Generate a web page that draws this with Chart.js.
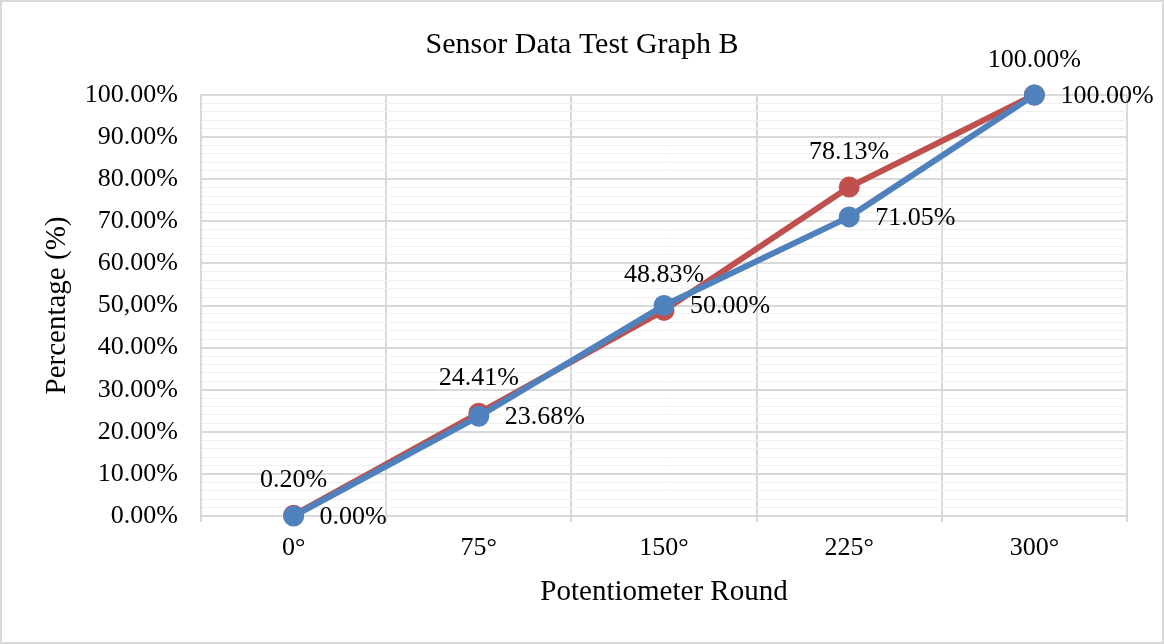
<!DOCTYPE html>
<html>
<head>
<meta charset="utf-8">
<script src="https://cdn.jsdelivr.net/npm/chart.js@4"></script>
<style>
  html, body { margin: 0; padding: 0; background: #fff; }
  #wrap { width: 1164px; height: 644px; box-sizing: border-box; border: 2px solid #d9d9d9; }
</style>
</head>
<body>
<div id="wrap"><canvas id="grafico" width="1160" height="640"></canvas></div>
<script>
// dados
const rounds = ['0°', '75°', '150°', '225°', '300°']
const redValues = [0.20, 24.41, 48.83, 78.13, 100.00]
const blueValues = [0.00, 23.68, 50.00, 71.05, 100.00]
const yTickLabels = ['0.00%', '10.00%', '20.00%', '30.00%', '40.00%', '50,00%',
  '60.00%', '70.00%', '80.00%', '90.00%', '100.00%']

const serif = 'Liberation Serif'

// rotulos dos pontos
const pointLabels = {
  id: 'pointLabels',
  afterDatasetsDraw(chart) {
    const ctx = chart.ctx
    ctx.save()
    ctx.font = '26px "' + serif + '"'
    ctx.fillStyle = '#000'
    ctx.textBaseline = 'middle'
    chart.data.datasets.forEach((ds, i) => {
      const meta = chart.getDatasetMeta(i)
      meta.data.forEach((pt, j) => {
        const txt = ds.data[j].toFixed(2) + '%'
        if (ds.labelSide === 'top') {
          ctx.textAlign = 'center'
          ctx.fillText(txt, pt.x, pt.y - 35)
        } else {
          ctx.textAlign = 'left'
          ctx.fillText(txt, pt.x + 26, pt.y + 1)
        }
      })
    })
    ctx.restore()
  }
}

const ctx = document.getElementById('grafico')

const data = {
  labels: rounds,
  datasets: [{
    label: 'A',
    data: redValues,
    borderColor: '#C0504D',
    backgroundColor: '#C0504D',
    borderWidth: 6,
    pointRadius: 7.5,
    pointHoverRadius: 7.5,
    order: 2,
    clip: false,
    labelSide: 'top'
  }, {
    label: 'B',
    data: blueValues,
    borderColor: '#4F81BD',
    backgroundColor: '#4F81BD',
    borderWidth: 6,
    pointRadius: 7.5,
    pointHoverRadius: 7.5,
    order: 1,
    clip: false,
    labelSide: 'right'
  }]
}

const config = {
  type: 'line',
  data,
  plugins: [pointLabels],
  options: {
    responsive: false,
    animation: false,
    layout: { padding: { top: 0, left: 0, right: 0, bottom: 32 } },
    plugins: {
      legend: { display: false },
      tooltip: { enabled: false },
      title: {
        display: true,
        text: 'Sensor Data Test Graph B',
        color: '#000',
        font: { family: serif, size: 30, weight: 'normal' },
        padding: { top: 25, bottom: 32 }
      }
    },
    scales: {
      x: {
        offset: true,
        grid: { offset: true, color: '#d9d9d9', lineWidth: 2, tickLength: 6 },
        border: { color: '#d9d9d9', width: 2 },
        ticks: { color: '#000', padding: 11, font: { family: serif, size: 26 } },
        title: {
          display: true,
          text: 'Potentiometer Round',
          color: '#000',
          font: { family: serif, size: 29 },
          padding: { top: 0, bottom: 0 }
        }
      },
      y: {
        min: 0,
        max: 100,
        afterFit(scale) { scale.width = 199 },
        grid: {
          drawTicks: false,
          lineWidth: c => (c.tick && c.tick.value % 10 === 0) ? 2 : 1,
          color: c => (c.tick && c.tick.value % 10 === 0) ? '#d9d9d9' : '#f0f0f0'
        },
        border: { color: '#d9d9d9', width: 2 },
        ticks: {
          stepSize: 2,
          autoSkip: false,
          padding: 23,
          color: '#000',
          font: { family: serif, size: 26 },
          callback: v => (v % 10 === 0) ? yTickLabels[v / 10] : ''
        },
        title: {
          display: true,
          text: 'Percentage (%)',
          color: '#000',
          font: { family: serif, size: 29 },
          padding: { top: 38, bottom: 0 }
        }
      },
      // espaco vazio a direita, para o titulo ficar centrado na pagina
      spacer: {
        type: 'linear',
        position: 'right',
        afterFit(scale) { scale.width = 35 },
        grid: { display: false },
        border: { display: false },
        ticks: { display: false }
      }
    }
  }
}

const graph = new Chart(ctx, config)
</script>
</body>
</html>
